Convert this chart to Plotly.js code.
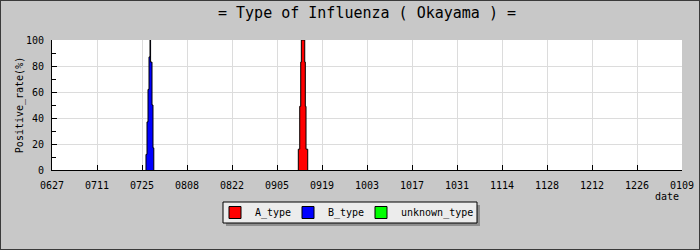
<!DOCTYPE html>
<html>
<head>
<meta charset="utf-8">
<script src="https://cdn.plot.ly/plotly-3.0.1.min.js"></script>
<style>
  html, body { margin: 0; padding: 0; background: #c8c8c8; }
  #wrap { position: relative; width: 700px; height: 250px; }
  #chart { width: 700px; height: 250px; }
  #frame { position: absolute; left: 0; top: 0; width: 700px; height: 250px; box-sizing: border-box; border: 1px solid #3a3a3a; pointer-events: none; }
</style>
</head>
<body>
<div id="wrap"><div id="chart"></div><div id="frame"></div></div>
<script>
// ---- data (step outlines of positive rate, %) ----
const aDates = ['2015-09-11 15:07', '2015-09-12 01:41', '2015-09-12 09:07', '2015-09-12 13:41',
                '2015-09-13 15:07', '2015-09-13 19:26', '2015-09-14 00:43', '2015-09-14 13:26'];
const aRates = [16, 49, 83, 100, 83, 49, 16, 0];

const bDates = ['2015-07-26 05:45', '2015-07-26 13:26', '2015-07-26 20:53', '2015-07-27 04:19',
                '2015-07-27 11:46', '2015-07-27 16:05', '2015-07-28 02:38', '2015-07-28 10:05',
                '2015-07-28 16:05'];
const bRates = [12, 37, 62, 87, 100, 83, 50, 17, 0];

const uDates = [];
const uRates = [];

const seriesNames = ['A_type', 'B_type', 'unknown_type'];
const seriesColors = ['#ff0000', '#0000ff', '#00ff00'];

const axisStart = '2015-06-27';
const axisEnd = '2016-01-09';
const tickStepDays = 14;
const yMax = 100;

const titleText = '= Type of Influenza ( Okayama ) =';
const yTitle = 'Positive_rate(%)';
const xTitle = 'date';

// ---- build traces ----
function stepTrace(dates, rates, i) {
  const x = dates.length ? [dates[0]].concat(dates) : [];
  const y = dates.length ? [0].concat(rates) : [];
  return {
    type: 'scatter', mode: 'lines', x: x, y: y,
    line: { shape: 'hv', color: '#000000', width: 1 },
    fill: 'tozeroy', fillcolor: seriesColors[i],
    name: seriesNames[i], legendgroup: seriesNames[i], showlegend: false,
    hoverinfo: 'skip'
  };
}
const allSeries = [[aDates, aRates], [bDates, bRates], [uDates, uRates]];
const traces = [];
allSeries.forEach((s, i) => traces.push(stepTrace(s[0], s[1], i)));
const legendEntryWidths = [28, 28, undefined];
seriesNames.forEach((n, i) => {
  const t = {
    type: 'bar', x: [null], y: [null], name: n, legendgroup: n, showlegend: true,
    marker: { color: seriesColors[i], line: { color: '#000000', width: 1 } },
    hoverinfo: 'skip'
  };
  if (legendEntryWidths[i] !== undefined) t.legendwidth = legendEntryWidths[i];
  traces.push(t);
});

const mono = 'DejaVu Sans Mono, monospace';
const plotL = 52, plotW = 630, plotB = 170, plotH = 130;
const px2x = p => (p - plotL) / plotW;
const px2y = p => (plotB - p) / plotH;

const layout = {
  width: 700, height: 250,
  paper_bgcolor: '#c8c8c8', plot_bgcolor: '#ffffff',
  margin: { l: 52, r: 18, t: 40, b: 80 },
  font: { family: mono, size: 10, color: '#000000' },
  title: { text: titleText, font: { family: mono, size: 15, color: '#000000' },
           x: 0.5, xref: 'paper', xanchor: 'center', y: 0.95, yanchor: 'middle' },
  showlegend: true,
  legend: {
    orientation: 'h', x: px2x(215), xanchor: 'left', y: px2y(198), yanchor: 'top',
    bgcolor: 'rgba(0,0,0,0)', borderwidth: 0,
    font: { family: mono, size: 10 }, itemwidth: 30, tracegroupgap: 0
  },
  shapes: [
    { type: 'rect', xref: 'paper', yref: 'paper', layer: 'below',
      x0: px2x(226), x1: px2x(480), y0: px2y(226), y1: px2y(205),
      fillcolor: '#8e8e8e', line: { width: 0 } },
    { type: 'rect', xref: 'paper', yref: 'paper', layer: 'below',
      x0: px2x(223), x1: px2x(477), y0: px2y(223), y1: px2y(202),
      fillcolor: '#ececec', line: { color: '#000000', width: 1 } }
  ],
  xaxis: {
    type: 'date', range: [axisStart, axisEnd],
    tick0: axisStart, dtick: tickStepDays * 86400000, tickformat: '%m%d',
    ticks: 'inside', ticklen: 5, tickcolor: '#000000',
    showgrid: true, gridcolor: '#dcdcdc', gridwidth: 1,
    showline: true, linecolor: '#000000', linewidth: 1,
    zeroline: false, ticklabelstandoff: 6, fixedrange: true
  },
  yaxis: {
    range: [0, yMax], dtick: 20, tick0: 0,
    ticks: 'inside', ticklen: 5, tickcolor: '#000000',
    minor: { dtick: 10, ticks: 'inside', ticklen: 4, tickcolor: '#000000', showgrid: false },
    showgrid: true, gridcolor: '#dcdcdc', gridwidth: 1,
    showline: true, linecolor: '#000000', linewidth: 1,
    zeroline: false, ticklabelstandoff: 5,
    title: { text: yTitle, font: { family: mono, size: 10 }, standoff: 0 }
  },
  annotations: [{
    text: xTitle, xref: 'paper', yref: 'paper', x: 0.976, y: -0.2,
    xanchor: 'center', yanchor: 'middle', showarrow: false,
    font: { family: mono, size: 10, color: '#000000' }
  }]
};

Plotly.newPlot('chart', traces, layout, { displayModeBar: false, staticPlot: true });
</script>
</body>
</html>
